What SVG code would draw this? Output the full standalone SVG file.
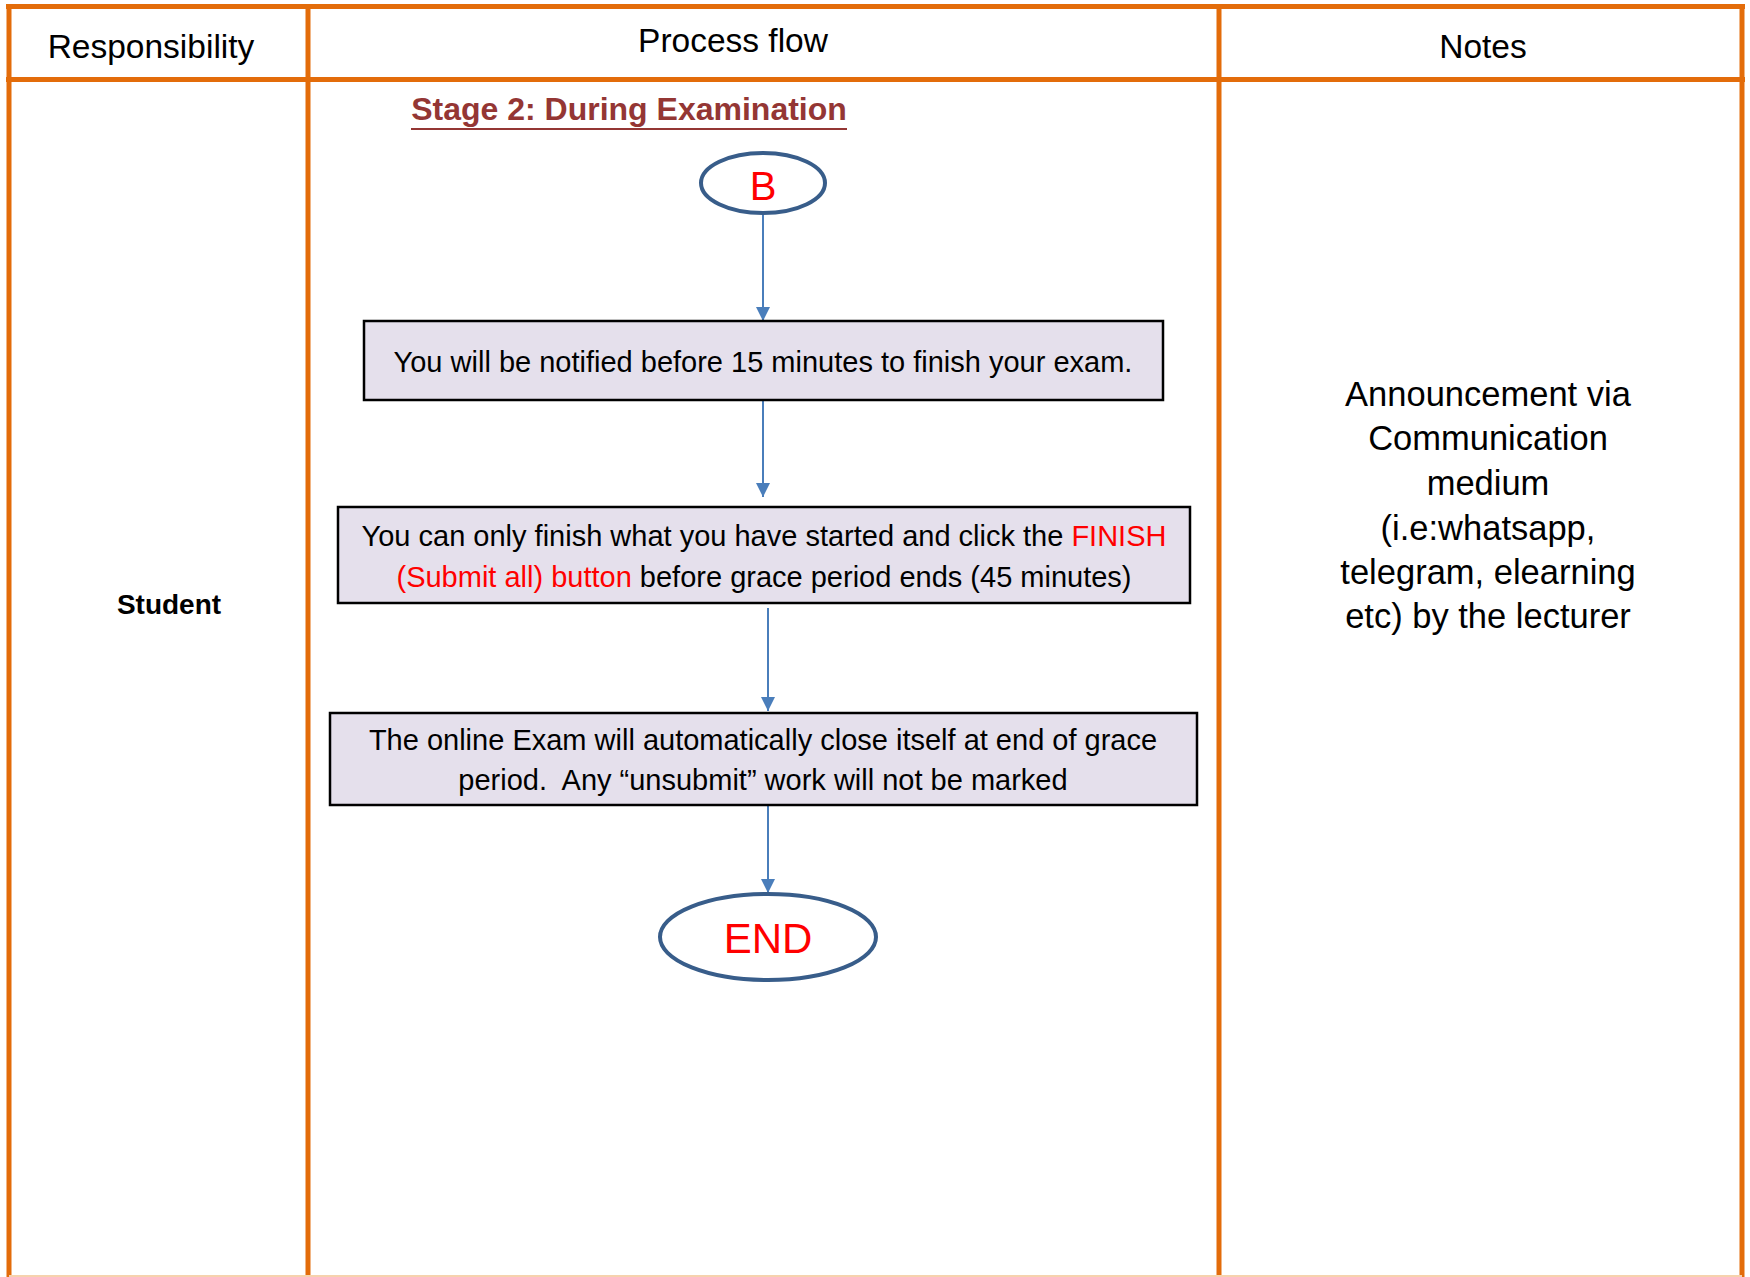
<svg xmlns="http://www.w3.org/2000/svg" width="1750" height="1277" viewBox="0 0 1750 1277">
<style>
.grid{stroke:#e36c0a;stroke-width:5;fill:none}
.hdr{font-family:"Liberation Sans",Arial,sans-serif;font-size:33.5px;fill:#000;text-anchor:middle}
.note{font-family:"Liberation Sans",Arial,sans-serif;font-size:34.5px;fill:#000;text-anchor:middle}
.box{fill:#e5e0ec;stroke:#000;stroke-width:2.5}
.txt{font-family:"Liberation Sans",Arial,sans-serif;font-size:29px;fill:#000;text-anchor:middle}
.red{fill:#ff0000}
.oval{fill:#fff;stroke:#385d8a;stroke-width:4}
.conn{stroke:#4a7ebb;stroke-width:2;fill:none}
</style>
<defs>
<marker id="arr" markerUnits="userSpaceOnUse" markerWidth="16" markerHeight="16" refX="14" refY="7" orient="auto">
<path d="M0,0 L14,7 L0,14 z" fill="#4a7ebb"/>
</marker>
</defs>
<rect width="1750" height="1277" fill="#fff"/>
<g id="table">
<line class="grid" x1="6" y1="6.5" x2="1745" y2="6.5"/>
<line class="grid" x1="9" y1="4" x2="9" y2="1277"/>
<line class="grid" x1="1742" y1="4" x2="1742" y2="1277"/>
<line class="grid" x1="308" y1="4" x2="308" y2="1277"/>
<line class="grid" x1="1219" y1="4" x2="1219" y2="1277"/>
<line class="grid" x1="6" y1="79.5" x2="1745" y2="79.5"/>
<line x1="9" y1="1276" x2="1742" y2="1276" stroke="#f6d2ae" stroke-width="2"/>
<text class="hdr" x="151" y="58">Responsibility</text>
<text class="hdr" x="733" y="52">Process flow</text>
<text class="hdr" x="1483" y="58">Notes</text>
</g>
<g id="student">
<text x="169" y="614" font-family="Liberation Sans,Arial,sans-serif" font-size="28" font-weight="bold" text-anchor="middle">Student</text>
</g>
<g id="stage-title">
<text x="629" y="120" font-family="Liberation Sans,Arial,sans-serif" font-size="32" font-weight="bold" fill="#943634" text-anchor="middle">Stage 2: During Examination</text>
<line x1="411" y1="129" x2="847" y2="129" stroke="#943634" stroke-width="2"/>
</g>
<g id="connectors">
<line class="conn" x1="763" y1="214" x2="763" y2="321" marker-end="url(#arr)"/>
<line class="conn" x1="763" y1="401" x2="763" y2="497" marker-end="url(#arr)"/>
<line class="conn" x1="768" y1="608" x2="768" y2="711" marker-end="url(#arr)"/>
<line class="conn" x1="768" y1="806" x2="768" y2="893" marker-end="url(#arr)"/>
</g>
<g id="node-B">
<ellipse class="oval" cx="763" cy="183" rx="62" ry="30"/>
<text x="763" y="200" font-family="Liberation Sans,Arial,sans-serif" font-size="40" fill="#ff0000" text-anchor="middle">B</text>
</g>
<g id="node-notify">
<rect class="box" x="364" y="321" width="799" height="79"/>
<text class="txt" x="763" y="372">You will be notified before 15 minutes to finish your exam.</text>
</g>
<g id="node-finish">
<rect class="box" x="338" y="507" width="852" height="96"/>
<text class="txt" x="764" y="546">You can only finish what you have started and click the <tspan class="red">FINISH</tspan></text>
<text class="txt" x="764" y="587"><tspan class="red">(Submit all) button</tspan> before grace period ends (45 minutes)</text>
</g>
<g id="node-close">
<rect class="box" x="330" y="713" width="867" height="92"/>
<text class="txt" x="763" y="750">The online Exam will automatically close itself at end of grace</text>
<text class="txt" x="763" y="790" xml:space="preserve">period.  Any “unsubmit” work will not be marked</text>
</g>
<g id="node-END">
<ellipse class="oval" cx="768" cy="937" rx="108" ry="43"/>
<text x="768" y="953" font-family="Liberation Sans,Arial,sans-serif" font-size="42" fill="#ff0000" text-anchor="middle">END</text>
</g>
<g id="notes">
<text class="note" x="1488" y="406">Announcement via</text>
<text class="note" x="1488" y="450">Communication</text>
<text class="note" x="1488" y="495">medium</text>
<text class="note" x="1488" y="540">(i.e:whatsapp,</text>
<text class="note" x="1488" y="584">telegram, elearning</text>
<text class="note" x="1488" y="628">etc) by the lecturer</text>
</g>
</svg>
